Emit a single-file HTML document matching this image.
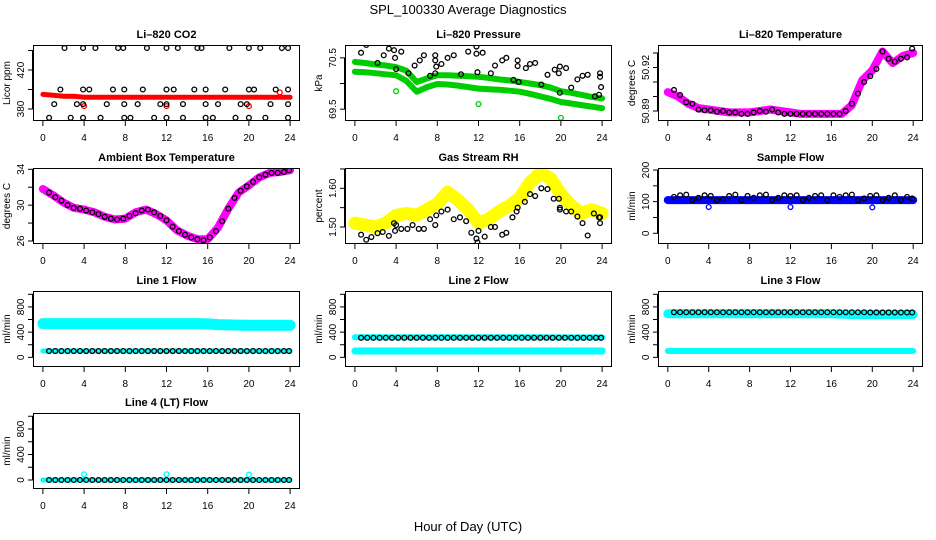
<!DOCTYPE html>
<html><head><meta charset="utf-8"><style>
html,body{margin:0;padding:0;background:#fff;}
svg{display:block;font-family:"Liberation Sans",Arial,sans-serif;}
</style></head><body>
<svg id="c" width="936" height="540" viewBox="0 0 936 540">
<text x="468" y="14" text-anchor="middle" font-size="13">SPL_100330  Average Diagnostics</text>
<text x="468" y="531" text-anchor="middle" font-size="13">Hour of Day (UTC)</text>
</svg>
<script>
const hrs25 = [0,1,2,3,4,5,6,7,8,9,10,11,12,13,14,15,16,17,18,19,20,21,22,23,24];
const blackHours = [0.6,1.2,1.8,2.4,3.0,3.6,4.2,4.8,5.4,6.0,6.6,7.2,7.8,8.4,9.0,9.6,10.2,10.8,11.4,12.0,12.6,13.2,13.8,14.4,15.0,15.6,16.2,16.8,17.4,18.0,18.6,19.2,19.8,20.4,21.0,21.6,22.2,22.8,23.4,23.9];
const xTicks = [0,4,8,12,16,20,24];

// CO2
const co2Band = [395,394,393,393,392,392,392,392,392,392,392,392,392,392,392,392,392,392,392,392,392,392,392,392,392];
const co2OutHours = [4,12,20,23];
const co2OutVals = [383,383,383,397];
const co2BlackHours = [2.1,3.9,5.1,7.3,7.8,10.1,12,13.1,15,15.4,18.1,20,21.1,23.2,23.8, 1.7,3.9,4.5,6.8,7.9,9.7,12,12.7,14.7,15.8,17.7,20,20.5,22.6,23.8, 1.1,3.3,3.9,6.2,7.9,9.2,11.4,12,13.6,15.8,17,19.2,19.8,22.1,23.8, 0.6,2.7,3.9,5.6,7.9,8.5,10.8,12,13.6,15.8,16.5,18.7,20,21.6,23.8];
const co2BlackVals = [442.5,442.5,442.5,442.5,442.5,442.5,442.5,442.5,442.5,442.5,442.5,442.5,442.5,442.5,442.5, 400,400,400,400,400,400,400,400,400,400,400,400,400,400,400, 385,385,385,385,385,385,385,385,385,385,385,385,385,385,385, 371,371,371,371,371,371,371,371,371,371,371,371,371,371,371];

// Pressure
const presUpper = [70.42,70.40,70.37,70.35,70.32,70.25,70.03,70.10,70.16,70.16,70.15,70.14,70.13,70.11,70.08,70.06,70.03,70.00,69.97,69.92,69.85,69.82,69.78,69.74,69.71];
const presLower = [70.23,70.22,70.20,70.18,70.16,70.05,69.84,69.93,69.99,69.98,69.96,69.93,69.90,69.89,69.88,69.86,69.84,69.80,69.75,69.70,69.64,69.61,69.58,69.55,69.52];
const presOutHours = [4,12,20];
const presOutVals = [69.85,69.6,69.33];
const presBlackHours = [0.6,1.1,1.6,2.2,2.8,3.3,3.8,3.9,4,4.5,5.2,5.8,6.3,6.7,7.3,7.8,7.8,7.8,7.9,8.4,9,9.6,10.3,11,11.8,11.8,11.9,12.4,13.2,13.6,14.3,14.7,15.4,15.8,15.8,15.9,16.6,17,17.5,18.1,18.7,19.4,19.8,19.9,19.9,20.5,21,21.6,22.1,22.6,23.3,23.7,23.8,23.8,23.9];
const presBlackVals = [70.6,70.75,70.8,70.4,70.55,70.68,70.65,70.5,70.28,70.62,70.2,70.35,70.45,70.55,70.15,70.2,70.55,70.45,70.33,70.38,70.5,70.55,70.18,70.62,70.72,70.58,70.22,70.6,70.2,70.35,70.45,70.5,70.07,70.45,70.34,70.03,70.3,70.38,70.4,69.98,70.17,70.27,70.2,70.33,69.82,70.3,69.92,70.08,70.15,70.17,69.75,69.78,70.2,70.13,69.93];

// Li-820 temperature
const ltBand = [50.903,50.900,50.895,50.892,50.891,50.890,50.889,50.889,50.889,50.890,50.891,50.890,50.889,50.888,50.888,50.888,50.888,50.888,50.894,50.911,50.918,50.931,50.923,50.928,50.930];
const ltBlack = [50.9045,50.901,50.896,50.895,50.891,50.8905,50.8905,50.8895,50.890,50.889,50.889,50.888,50.888,50.889,50.890,50.8895,50.891,50.889,50.888,50.888,50.888,50.888,50.888,50.888,50.888,50.888,50.888,50.888,50.890,50.895,50.902,50.910,50.914,50.919,50.931,50.926,50.924,50.926,50.927,50.933];

// Ambient box temperature
const ambBand = [31.8,31.1,30.3,29.7,29.5,29.2,28.7,28.4,28.5,29.2,29.5,29.0,28.3,27.2,26.6,26.2,26.2,27.5,29.6,31.4,32.2,33.1,33.6,33.7,33.9];
const ambBlack = [31.4,30.9,30.5,30.0,29.7,29.6,29.4,29.2,29.0,28.7,28.5,28.4,28.5,28.8,29.1,29.4,29.5,29.2,28.8,28.3,27.6,27.1,26.7,26.4,26.2,26.1,26.4,27.1,28.2,29.6,30.8,31.6,32.1,32.6,33.1,33.4,33.6,33.6,33.7,33.9];

// Gas stream RH
const rhBand = [1.51,1.505,1.50,1.51,1.53,1.535,1.53,1.545,1.56,1.59,1.57,1.545,1.51,1.52,1.54,1.555,1.575,1.615,1.64,1.625,1.585,1.555,1.535,1.545,1.535];
const rhBlackHours = [0.6,1.1,1.6,2.2,2.7,3.3,3.8,3.9,4,4.5,5.1,5.6,6.2,6.7,7.3,7.8,7.9,8.4,9,9.6,10.2,10.8,11.3,11.8,11.9,12,12.6,13.2,13.6,14.3,14.7,15.3,15.7,15.8,16.5,17,17.5,18.1,18.7,19.3,19.8,19.9,19.9,20.5,21,21.6,22.1,22.6,23.2,23.7,23.8,23.8];
const rhBlackVals = [1.48,1.467,1.474,1.484,1.487,1.477,1.51,1.49,1.505,1.495,1.495,1.505,1.495,1.495,1.52,1.505,1.53,1.54,1.545,1.52,1.525,1.515,1.485,1.47,1.46,1.49,1.475,1.50,1.50,1.48,1.485,1.525,1.54,1.55,1.565,1.585,1.58,1.60,1.598,1.573,1.573,1.545,1.55,1.54,1.54,1.527,1.51,1.478,1.535,1.525,1.525,1.51];

// Sample flow
const sfBand = [105,105,105,105,105,105,105,105,105,105,105,105,105,105,105,105,105,105,105,105,105,105,105,105,105];
const sfOutHours = [4,12,20];
const sfOutVals = [83,83,82];
const sfBlack = [115,120,122,105,112,120,118,105,108,118,122,105,118,112,120,122,105,112,120,118,120,105,112,118,120,105,120,115,120,122,105,110,118,120,105,112,120,105,115,110];

// Line flows
const l1Upper = [535,535,535,535,535,535,535,535,535,535,535,535,535,535,535,535,530,520,515,512,508,508,508,508,508];
const l1Lower = [100,100,100,100,100,100,100,100,100,100,100,100,100,100,100,100,100,100,100,100,100,100,100,100,100];
const l1Black = [100,100,100,100,100,100,100,100,100,100,100,100,100,100,100,100,100,100,100,100,100,100,100,100,100,100,100,100,100,100,100,100,100,100,100,100,100,100,100,100];
const l2Upper = [320,320,320,320,320,320,320,320,320,320,320,320,320,320,320,320,320,320,318,316,316,316,316,316,316];
const l2Lower = [100,100,100,100,100,100,100,100,100,100,100,100,100,100,100,100,100,100,100,100,100,100,100,100,100];
const l2Black = [310,310,310,310,310,310,310,310,310,310,310,310,310,310,310,310,310,310,310,310,310,310,310,310,310,310,310,310,310,310,310,310,310,310,310,310,310,310,310,310];
const l3Upper = [690,690,690,690,690,690,690,690,690,690,690,690,690,690,690,690,690,685,680,680,680,680,680,680,680];
const l3Lower = [100,100,100,100,100,100,100,100,100,100,100,100,100,100,100,100,100,100,100,100,100,100,100,100,100];
const l3Black = [715,715,715,715,715,715,715,715,715,715,715,715,715,715,715,715,715,715,715,715,715,715,715,715,715,715,715,715,715,715,715,715,712,712,712,712,712,712,712,712];
const l4Band = [0,0,0,0,0,0,0,0,0,0,0,0,0,0,0,0,0,0,0,0,0,0,0,0,0];
const l4OutHours = [4,12,20];
const l4OutVals = [90,90,85];
const l4Black = [0,0,0,0,0,0,0,0,0,0,0,0,0,0,0,0,0,0,0,0,0,0,0,0,0,0,0,0,0,0,0,0,0,0,0,0,0,0,0,0];

const NS = "http://www.w3.org/2000/svg";
const svg = document.getElementById('c');
function mk(tag, attrs, parent) {
  const e = document.createElementNS(NS, tag);
  for (const k in attrs) e.setAttribute(k, attrs[k]);
  (parent || svg).appendChild(e);
  return e;
}

function panel(key, title, ytitle, x0, x1, y0, y1, top, bot, ticks, labels) {
  const g = mk('g', {});
  
  
  const sx = h => x0 + (h + 0.96) / 25.92 * (x1 - x0);
  const sy = v => y0 + (top - v) / (top - bot) * (y1 - y0);
  const t = mk('text', {x: (x0 + x1) / 2, y: y0 - 7, 'text-anchor': 'middle', 'font-size': 11, 'font-weight': 'bold'}, g);
  t.textContent = title;
  
  
  const yt = mk('text', {transform: `translate(${x0 - 23},${(y0 + y1) / 2}) rotate(-90)`, 'text-anchor': 'middle', 'font-size': 10}, g);
  yt.textContent = ytitle;
  
  
  ticks.forEach((v, i) => {
    const y = sy(v);
    const tk = mk('line', {x1: x0, x2: x0 - 5, y1: y, y2: y, stroke: '#000', 'stroke-width': 1}, g);
    
    
    if (labels[i] !== '') {
      const lb = mk('text', {transform: `translate(${x0 - 9},${y}) rotate(-90)`, 'text-anchor': 'middle', 'font-size': 10}, g);
      lb.textContent = labels[i];
      
      
    }
  });
  mk('line', {x1: x0 - 0.5, x2: x0 - 0.5, y1: sy(ticks[0]), y2: sy(ticks[ticks.length - 1]), stroke: '#000'}, g);
  xTicks.forEach(h => {
    const x = sx(h);
    const tk = mk('line', {x1: x, x2: x, y1: y1, y2: y1 + 5, stroke: '#000', 'stroke-width': 1}, g);
    
    
    const lb = mk('text', {x: x, y: y1 + 20, 'text-anchor': 'middle', 'font-size': 10}, g);
    lb.textContent = h;
    
    
  });
  const clip = mk('clipPath', {id: 'clip-' + key}, g);
  mk('rect', {x: x0, y: y0, width: x1 - x0, height: y1 - y0}, clip);
  const plot = mk('g', {'clip-path': `url(#clip-${key})`}, g);
  
  
  const box = mk('rect', {x: x0 + 0.5, y: y0 + 0.5, width: x1 - x0 - 1, height: y1 - y0 - 1, fill: 'none', stroke: '#000', 'stroke-width': 1}, g);
  
  
  return {g, plot, sx, sy};
}

function band(p, name, hours, vals, color, w) {
  const pts = hours.map((h, i) => p.sx(h).toFixed(1) + ',' + p.sy(vals[i]).toFixed(1)).join(' ');
  const pl = mk('polyline', {points: pts, fill: 'none', stroke: color, 'stroke-width': w, 'stroke-linejoin': 'round', 'stroke-linecap': 'round'}, p.plot);
  
  
}
function dots(p, name, hours, vals, color) {
  hours.forEach((h, i) => {
    const c = mk('circle', {cx: p.sx(h), cy: p.sy(vals[i]), r: 2.4, fill: 'none', stroke: color, 'stroke-width': 1.3}, p.plot);
    
    
  });
}

const C1 = [33, 300], C2 = [345, 612], C3 = [658, 923];
const R1 = [45, 121], R2 = [168, 244], R3 = [291, 367], R4 = [413, 489];
const flowTicks = [0, 200, 400, 600, 800, 1000], flowLabels = ['0', '', '400', '', '800', ''];

let p = panel('co2', 'Li–820 CO2', 'Licor ppm', C1[0], C1[1], R1[0], R1[1], 445.6, 367.7, [380, 400, 420, 440], ['380', '', '420', '']);
band(p, 'co2-series', hrs25, co2Band, '#ff0000', 5);
dots(p, 'co2-outlier', co2OutHours, co2OutVals, '#ff0000');
dots(p, 'co2-average-point', co2BlackHours, co2BlackVals, '#000');

p = panel('pressure', 'Li–820 Pressure', 'kPa', C2[0], C2[1], R1[0], R1[1], 70.75, 69.27, [69.5, 70.0, 70.5], ['69.5', '', '70.5']);
band(p, 'pressure-upper-series', hrs25, presUpper, '#00cd00', 6);
band(p, 'pressure-lower-series', hrs25, presLower, '#00cd00', 6);
dots(p, 'pressure-outlier', presOutHours, presOutVals, '#00cd00');
dots(p, 'pressure-average-point', presBlackHours, presBlackVals, '#000');

p = panel('li-temp', 'Li–820 Temperature', 'degrees C', C3[0], C3[1], R1[0], R1[1], 50.9355, 50.8831, [50.89, 50.90, 50.91, 50.92, 50.93], ['50.89', '', '', '50.92', '']);
band(p, 'li-temp-series', hrs25, ltBand, '#ff00ff', 8);
dots(p, 'li-temp-average-point', blackHours, ltBlack, '#000');

p = panel('ambient', 'Ambient Box Temperature', 'degrees C', C1[0], C1[1], R2[0], R2[1], 34.145, 25.665, [26, 28, 30, 32, 34], ['26', '', '30', '', '34']);
band(p, 'ambient-series', hrs25, ambBand, '#ff00ff', 8);
dots(p, 'ambient-average-point', blackHours, ambBlack, '#000');

p = panel('rh', 'Gas Stream RH', 'percent', C2[0], C2[1], R2[0], R2[1], 1.6525, 1.456, [1.50, 1.55, 1.60, 1.65], ['1.50', '', '1.60', '']);
band(p, 'rh-series', hrs25, rhBand, '#ffff00', 13);
dots(p, 'rh-average-point', rhBlackHours, rhBlackVals, '#000');

p = panel('sample-flow', 'Sample Flow', 'ml/min', C3[0], C3[1], R2[0], R2[1], 206.3, -33.8, [0, 50, 100, 150, 200], ['0', '', '100', '', '200']);
band(p, 'sample-flow-series', hrs25, sfBand, '#0000ff', 8);
dots(p, 'sample-flow-outlier', sfOutHours, sfOutVals, '#0000ff');
dots(p, 'sample-flow-average-point', blackHours, sfBlack, '#000');

p = panel('line1', 'Line 1 Flow', 'ml/min', C1[0], C1[1], R3[0], R3[1], 1052, -153, flowTicks, flowLabels);
band(p, 'line1-upper-series', hrs25, l1Upper, '#00ffff', 11);
band(p, 'line1-lower-series', hrs25, l1Lower, '#00ffff', 5);
dots(p, 'line1-average-point', blackHours, l1Black, '#000');

p = panel('line2', 'Line 2 Flow', 'ml/min', C2[0], C2[1], R3[0], R3[1], 1052, -153, flowTicks, flowLabels);
band(p, 'line2-upper-series', hrs25, l2Upper, '#00ffff', 6);
band(p, 'line2-lower-series', hrs25, l2Lower, '#00ffff', 7);
dots(p, 'line2-average-point', blackHours, l2Black, '#000');

p = panel('line3', 'Line 3 Flow', 'ml/min', C3[0], C3[1], R3[0], R3[1], 1052, -153, flowTicks, flowLabels);
band(p, 'line3-upper-series', hrs25, l3Upper, '#00ffff', 9);
band(p, 'line3-lower-series', hrs25, l3Lower, '#00ffff', 6);
dots(p, 'line3-average-point', blackHours, l3Black, '#000');

p = panel('line4', 'Line 4 (LT) Flow', 'ml/min', C1[0], C1[1], R4[0], R4[1], 1051, -141, flowTicks, flowLabels);
band(p, 'line4-series', hrs25, l4Band, '#00ffff', 5);
dots(p, 'line4-outlier', l4OutHours, l4OutVals, '#00ffff');
dots(p, 'line4-average-point', blackHours, l4Black, '#000');
</script>
</body></html>
